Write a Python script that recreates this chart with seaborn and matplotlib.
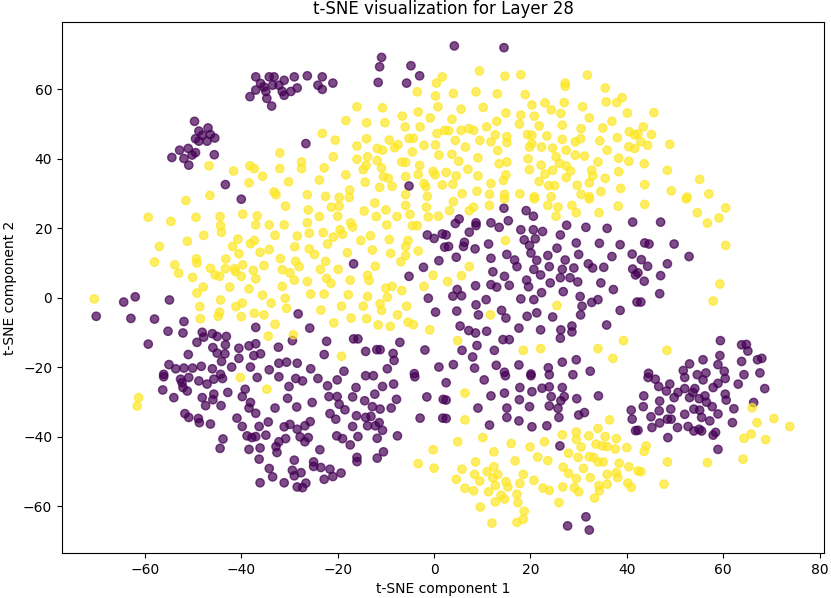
import matplotlib
matplotlib.use('Agg')
import matplotlib.pyplot as plt
import numpy as np
import pandas as pd
import seaborn as sns

# points, label 1 = yellow, label 0 = purple
yellow_pts = [
    (-46.7, 38.0), (-41.6, 36.5), (-38.2, 38.0), (-38.4, 33.1), (-46.5, 29.5), (-51.5, 28.0),
    (-16.0, 55.0), (-10.7, 54.7), (-18.3, 51.0), (-14.0, 50.4), (-10.2, 50.4), (-6.6, 52.3),
    (-3.3, 53.5), (-3.5, 59.3), (0.5, 61.8), (1.7, 63.6), (0.3, 58.1), (0.8, 55.0), (-0.8, 51.8),
    (-6.0, 49.2), (-2.9, 49.2), (0.6, 47.3), (2.2, 48.2), (-23.2, 47.3), (-20.5, 45.4),
    (-14.0, 45.8), (-16.0, 43.7), (-11.8, 43.0), (-10.7, 42.5), (-9.3, 45.4), (-8.2, 43.2),
    (-7.5, 44.1), (-5.2, 45.9), (-4.3, 45.9), (-2.1, 43.9), (0.3, 44.0), (-4.5, 42.0), (1.0, 41.1),
    (-32.0, 41.7), (-27.5, 39.1), (-27.5, 37.2), (-32.0, 37.2), (-20.9, 40.6), (-22.8, 37.4),
    (-16.0, 39.9), (-13.8, 40.6), (-14.1, 38.1), (-14.7, 36.9), (-10.9, 37.4), (-11.8, 39.5),
    (-6.7, 39.1), (-5.9, 39.0), (-3.0, 38.1), (-0.2, 36.4), (0.2, 35.4), (-35.6, 35.0),
    (-30.2, 33.4), (-23.8, 33.9), (-18.3, 35.4), (-14.3, 33.3), (-10.5, 34.9), (-9.5, 34.4),
    (-8.7, 32.1), (-11.3, 31.8), (-5.9, 34.9), (-3.3, 35.5), (-2.1, 32.9), (-1.7, 32.0), (1.7, 32.5),
    (-17.5, 31.0), (-33.2, 30.5), (-32.8, 29.7), (-26.3, 29.7), (-22.5, 29.2), (-19.7, 28.9),
    (-17.6, 28.9), (-5.9, 29.7), (-1.4, 29.2), (-37.3, 37.2),
    (9.4, 65.3), (14.7, 63.8), (18.0, 64.2), (27.2, 61.8), (27.2, 60.9), (31.8, 64.1), (4.0, 58.8),
    (8.7, 59.3), (13.1, 58.7), (18.9, 58.5), (35.5, 60.4), (35.7, 56.4), (37.9, 56.2), (39.0, 57.6),
    (40.1, 53.2), (5.6, 54.3), (10.2, 54.8), (14.9, 53.2), (13.0, 50.8), (3.7, 51.4), (20.3, 55.5),
    (23.0, 56.1), (24.3, 54.1), (26.3, 53.1), (27.0, 56.2), (30.8, 55.0), (32.2, 51.8), (36.9, 50.8),
    (18.0, 52.6), (20.8, 52.3), (17.7, 50.0), (21.8, 49.5), (26.6, 49.7), (30.5, 48.7), (35.0, 48.9),
    (40.5, 47.8), (41.6, 46.9), (3.0, 48.1), (5.6, 48.2), (7.2, 48.7), (8.2, 48.2), (10.9, 49.2),
    (12.7, 46.9), (15.1, 46.4), (15.1, 44.7), (11.8, 44.9), (9.5, 45.3), (4.4, 45.3), (19.4, 47.0),
    (20.3, 46.8), (23.4, 46.6), (26.6, 45.6), (29.3, 44.9), (30.4, 45.8), (34.4, 45.2), (38.0, 46.1),
    (40.4, 43.5), (41.6, 43.0), (6.5, 43.4), (13.2, 42.4), (19.8, 43.4), (20.3, 44.4), (22.3, 43.4),
    (24.6, 43.1), (27.4, 42.5), (29.3, 41.1), (31.2, 40.8), (35.9, 42.5), (3.7, 41.3), (5.1, 39.3),
    (9.1, 40.3), (13.5, 38.6), (15.1, 39.1), (19.5, 40.0), (22.2, 38.2), (25.3, 40.6), (26.0, 38.7),
    (27.4, 38.0), (28.3, 36.5), (34.0, 39.1), (38.3, 40.2), (40.4, 39.3), (7.0, 37.0), (9.1, 35.1),
    (4.6, 35.1), (2.5, 36.1), (14.9, 35.4), (19.8, 36.9), (23.0, 35.6), (24.6, 36.7), (27.4, 34.6),
    (32.7, 36.7), (32.9, 35.1), (38.3, 36.3), (35.5, 34.4), (21.8, 33.5), (23.8, 32.3), (25.0, 32.3),
    (29.7, 32.4), (32.2, 33.1), (38.7, 31.5), (3.9, 32.7), (11.8, 32.9), (14.4, 33.8), (5.8, 30.0),
    (8.9, 30.7), (11.5, 29.8), (14.6, 29.8), (17.8, 29.9), (20.8, 29.1), (24.3, 29.1), (30.5, 29.8),
    (32.2, 29.1), (34.6, 30.6),
    (45.6, 53.3), (43.4, 49.2), (42.3, 47.2), (45.1, 47.0), (42.9, 44.9), (44.3, 43.9), (48.9, 44.2),
    (43.6, 38.6), (48.4, 36.7), (55.1, 34.1), (43.7, 32.6), (49.2, 30.8), (52.5, 29.0), (57.0, 29.9),
    (-59.3, 23.2), (-54.6, 22.0), (-49.4, 23.2), (-44.4, 23.4), (-39.7, 24.1), (-44.3, 20.8),
    (-44.1, 18.9), (-47.8, 18.0), (-51.2, 16.3), (-57.0, 14.8), (-40.7, 16.9), (-41.8, 14.8),
    (-40.5, 12.7), (-38.1, 15.6), (-58.0, 10.3), (-53.8, 9.5), (-53.0, 7.1), (-49.3, 11.2),
    (-49.2, 10.0), (-46.4, 8.5), (-43.2, 11.2), (-43.3, 8.4), (-41.4, 8.4), (-39.7, 9.5),
    (-41.2, 7.6), (-50.1, 5.9), (-45.4, 6.6), (-44.5, 6.2), (-40.0, 6.2), (-37.5, 7.9), (-47.9, 3.1),
    (-42.4, 3.1), (-38.4, 2.6), (-49.2, 1.4), (-70.5, -0.3), (-44.3, -0.6), (-39.8, -1.5),
    (-41.1, -2.5), (-48.6, -2.5), (-44.5, -4.1), (-44.8, -5.3), (-48.5, -6.0), (-40.0, -5.4),
    (-30.8, 26.4), (-36.7, 23.6), (-37.0, 21.0), (-34.2, 21.0), (-31.1, 21.0), (-26.1, 25.3),
    (-23.8, 23.4), (-26.3, 21.6), (-21.3, 26.1), (-19.7, 26.4), (-20.0, 23.5), (-17.3, 21.6),
    (-16.9, 20.4), (-14.5, 25.0), (-12.0, 23.4), (-12.3, 27.3), (-10.0, 25.3), (-7.7, 23.4),
    (-5.9, 26.6), (-5.0, 24.0), (-1.6, 26.1), (-1.2, 23.3), (0.9, 23.5), (-4.5, 20.8), (-3.5, 20.8),
    (-9.8, 21.0), (-33.0, 18.0), (-28.4, 17.8), (-25.9, 18.6), (-23.0, 18.8), (-19.5, 19.6),
    (-20.9, 17.5), (-19.0, 18.3), (-15.2, 16.5), (-13.2, 17.9), (-9.3, 16.8), (-5.4, 16.5),
    (-5.9, 14.8), (-37.3, 16.5), (-34.2, 13.9), (-28.9, 14.7), (-25.9, 14.1), (-24.8, 12.5),
    (-22.1, 15.5), (-36.1, 13.1), (-18.0, 13.0), (-12.8, 13.8), (-9.0, 12.8), (-5.9, 12.2),
    (-3.3, 13.5), (-6.9, 10.4), (-31.9, 11.3), (-28.7, 10.5), (-28.0, 9.0), (-22.5, 10.5),
    (-35.3, 9.3), (-37.0, 5.5), (-31.5, 8.1), (-29.9, 7.2), (-23.6, 8.2), (-19.9, 8.2),
    (-12.2, 9.1), (-13.8, 6.5), (-13.5, 5.0), (-29.0, 5.1), (-22.3, 5.6), (-21.4, 4.2), (-26.3, 4.7),
    (-31.5, 3.3), (-17.4, 5.1), (-10.0, 2.8), (-8.7, 3.3), (-6.7, 2.1), (-0.2, 6.5), (-2.1, 3.3),
    (-35.6, 0.8), (-30.9, -0.1), (-25.6, 1.1), (-22.8, 1.1), (-17.8, 0.9), (-13.8, 0.4), (-9.7, 0.2),
    (-11.2, -1.7), (-10.9, -3.6), (-14.7, -2.4), (-19.2, -2.4), (-23.5, -3.5), (-30.6, -3.0),
    (-33.8, -1.5), (-5.7, -2.4), (-7.6, -4.9), (-37.3, -4.4), (-35.3, -4.9), (-17.2, -5.8),
    (-14.0, -6.0), (-20.8, -7.2), (-33.0, -7.6), (-34.4, -11.0), (-29.2, -10.6), (-11.6, -7.8),
    (-9.1, -8.2), (-5.4, -7.0), (-4.3, -7.7), (-0.9, -9.2), (-19.2, -16.8),
    (4.0, 27.7), (3.2, 25.1), (7.3, 25.1), (8.2, 26.1), (11.5, 26.6), (14.6, 28.5), (20.8, 28.5),
    (23.6, 26.6), (25.7, 26.1), (25.3, 23.5), (28.6, 26.6), (29.5, 24.5), (32.2, 28.5), (34.2, 24.5),
    (38.2, 26.4), (14.8, 16.5), (7.3, 9.0), (5.7, 6.4), (2.8, 4.7), (25.5, -2.2), (11.7, -4.9),
    (4.9, -12.3), (18.5, -15.1), (22.1, -14.6), (34.0, -14.6), (39.3, -12.3), (37.1, -17.4),
    (43.7, 26.9), (52.3, 28.5), (54.6, 24.5), (56.7, 21.5), (59.1, 23.0), (60.5, 25.9), (60.5, 15.1),
    (59.3, 4.0), (57.9, -0.9), (48.3, -15.1),
    (-61.3, -28.7), (-61.6, -31.1), (-40.2, -22.9), (-34.7, -26.3), (-0.2, -43.7), (-3.3, -47.7),
    (0.0, -49.0),
    (6.4, -27.4), (6.4, -35.1), (36.4, -35.1), (4.9, -41.4), (10.1, -40.2), (16.0, -41.9),
    (19.9, -42.9), (22.9, -41.4), (26.6, -39.4), (29.5, -38.6), (29.5, -40.7), (32.1, -39.7),
    (34.0, -37.6), (35.5, -39.9), (37.8, -40.5), (33.6, -42.1), (34.9, -42.6), (35.9, -42.8),
    (37.6, -43.5), (40.0, -43.1), (30.5, -42.9), (27.9, -44.7), (29.9, -45.9), (32.2, -45.7),
    (33.1, -45.9), (34.0, -47.2), (35.1, -47.2), (38.4, -47.6), (40.4, -48.6), (42.3, -49.8),
    (12.4, -44.3), (8.6, -47.2), (5.8, -49.3), (4.6, -52.2), (8.4, -50.8), (9.5, -52.7), (6.4, -54.8),
    (8.2, -55.5), (11.3, -55.8), (11.0, -50.0), (12.4, -48.6), (13.2, -50.8), (12.2, -51.8),
    (12.7, -54.0), (14.9, -52.9), (15.3, -54.4), (16.8, -46.9), (18.5, -50.8), (17.8, -53.4),
    (20.7, -52.5), (21.5, -45.8), (23.6, -46.8), (17.2, -56.5), (13.9, -56.8), (14.6, -57.9),
    (12.7, -58.7), (17.4, -58.9), (22.6, -54.7), (23.9, -55.4), (26.7, -54.4), (26.8, -48.7),
    (27.9, -50.5), (29.5, -52.0), (31.0, -49.1), (32.4, -51.7), (35.9, -50.8), (37.8, -50.3),
    (38.1, -51.7), (34.2, -54.0), (35.9, -53.6), (40.2, -53.3), (40.9, -54.5), (29.1, -54.6),
    (30.0, -55.8), (34.3, -55.5), (33.3, -57.6), (25.9, -58.9), (9.6, -60.2), (18.7, -61.4),
    (18.5, -63.7), (17.2, -64.6), (12.0, -64.8),
    (66.0, -31.6), (67.0, -35.9), (70.5, -34.7), (73.8, -37.0), (65.8, -39.2), (64.3, -40.4),
    (68.8, -40.8), (44.0, -42.6), (43.6, -44.2), (48.4, -47.2), (56.7, -47.4), (64.1, -46.4),
    (42.9, -50.0), (47.7, -53.6),
]

purple_pts = [
    (-49.7, 50.8), (-48.8, 48.0), (-46.9, 48.9), (-48.1, 46.8), (-46.4, 47.0), (-49.5, 45.8),
    (-47.1, 45.1), (-45.5, 46.0), (-48.8, 45.1), (-52.8, 42.5), (-51.0, 43.0), (-49.5, 41.8),
    (-54.4, 40.4), (-51.9, 40.1), (-50.2, 41.1), (-50.9, 38.2), (-45.6, 41.2), (-43.3, 32.6),
    (-40.0, 28.4), (-38.2, 57.9),
    (-37.0, 63.6), (-36.0, 61.7), (-34.2, 63.6), (-33.2, 63.6), (-35.3, 60.7), (-33.5, 61.2),
    (-32.2, 61.2), (-31.1, 62.6), (-37.0, 59.8), (-34.9, 59.4), (-31.5, 59.4), (-31.1, 58.3),
    (-29.7, 59.4), (-29.0, 63.6), (-28.4, 60.4), (-34.7, 57.4), (-33.7, 55.2), (-26.3, 63.9),
    (-23.2, 63.6), (-24.1, 61.2), (-23.2, 60.0), (-21.0, 61.8), (-10.9, 69.2), (-11.3, 66.5),
    (-11.6, 62.0), (-4.8, 66.8), (-3.0, 63.9), (-5.7, 61.8), (-26.6, 44.4), (-5.2, 32.2),
    (4.2, 72.5), (14.5, 72.0),
    (-64.4, -1.2), (-62.0, 0.3), (-54.9, -0.6), (-70.1, -5.3), (-62.9, -5.9), (-58.0, -6.1),
    (-51.9, -6.8), (-55.2, -9.6), (-52.1, -10.1), (-48.1, -9.9), (-47.8, -11.3), (-46.0, -10.3),
    (-45.0, -11.1), (-43.1, -11.1), (-49.2, -12.8), (-45.9, -14.3), (-43.3, -13.5), (-40.5, -14.5),
    (-38.4, -13.8), (-59.3, -13.3), (-45.0, -15.9), (-43.4, -16.1), (-40.5, -17.4), (-37.4, -16.6),
    (-51.0, -16.3), (-44.1, -18.3), (-42.0, -19.9), (-55.0, -19.2), (-53.6, -20.4), (-51.9, -20.2),
    (-50.1, -20.2), (-48.3, -19.7), (-46.0, -20.4), (-56.1, -22.0), (-44.3, -22.0), (-38.1, -19.9),
    (-16.7, 9.8), (-1.4, 18.1), (0.0, 17.1), (1.7, 18.4), (2.2, 14.6), (1.0, 10.7), (-2.2, 8.8),
    (-5.2, 6.2), (-1.2, -0.1), (0.3, -4.1), (-28.2, -4.6), (-25.8, -8.7), (-37.0, -8.5),
    (-29.4, -12.3), (-32.3, -14.2), (-37.0, -13.2), (-36.0, -16.1), (-22.3, -12.5), (-22.8, -16.3),
    (-16.7, -11.8), (-15.8, -11.8), (-14.2, -15.4), (-11.9, -14.9), (-11.2, -14.9), (-7.1, -12.8),
    (-8.5, -16.0), (-8.3, -18.0), (-1.9, -15.0), (-32.2, -18.8), (-30.6, -18.5), (-28.4, -18.8),
    (-34.2, -20.7), (-25.6, -20.4), (-18.7, -21.1), (-9.7, -20.4), (-4.1, -21.8), (1.0, -19.9),
    (5.2, 22.7), (4.4, 21.4), (8.7, 21.6), (8.7, 20.8), (7.3, 18.9), (2.5, 18.1), (11.8, 21.6),
    (13.5, 20.3), (15.4, 22.2), (14.5, 25.8), (19.1, 25.1), (20.6, 23.5), (18.0, 19.6), (20.6, 19.6),
    (22.5, 19.1), (26.2, 18.1), (27.5, 20.9), (31.5, 20.3), (35.9, 20.0), (41.2, 21.8), (3.0, 14.8),
    (6.1, 14.8), (6.3, 16.0), (8.5, 14.1), (11.3, 15.5), (18.7, 16.7), (21.0, 17.0), (19.8, 15.1),
    (20.1, 12.9), (25.5, 14.3), (29.5, 15.8), (34.3, 15.7), (38.6, 15.3), (4.6, 11.7), (11.8, 11.4),
    (15.1, 12.5), (16.7, 10.9), (17.2, 9.0), (21.3, 10.8), (23.6, 12.2), (27.2, 10.9), (30.0, 12.5),
    (32.0, 9.8), (36.9, 11.9), (41.1, 12.6), (12.2, 7.5), (14.6, 6.2), (20.7, 8.2), (22.1, 6.6),
    (23.9, 9.0), (26.6, 8.2), (29.0, 8.6), (26.2, 5.8), (28.2, 5.8), (29.8, 4.6), (32.9, 8.6),
    (35.2, 8.8), (41.2, 8.3), (41.8, 6.6), (8.6, 3.5), (11.8, 3.8), (13.0, 3.1), (15.6, 3.6),
    (19.2, 5.1), (19.6, 3.2), (24.1, 4.3), (26.8, 1.8), (34.6, 4.3), (37.2, 2.4), (4.8, 2.4),
    (3.9, 0.5), (5.7, 0.6), (10.8, -0.5), (18.0, -0.3), (20.7, -0.5), (22.3, 1.5), (30.3, 0.4),
    (30.7, -2.4), (32.7, -1.3), (34.0, -0.5), (42.1, -1.2), (8.7, -2.0), (4.7, -3.8), (9.2, -4.9),
    (14.0, -3.6), (14.9, -5.8), (19.3, -5.3), (21.3, -4.3), (24.6, -5.5), (30.4, -4.9), (38.6, -3.6),
    (5.4, -8.1), (7.2, -9.4), (8.6, -10.1), (10.9, -9.6), (17.6, -8.7), (22.1, -9.2), (26.3, -9.2),
    (28.6, -8.1), (28.6, -9.8), (26.2, -11.6), (35.8, -7.8), (14.3, -12.0), (15.6, -12.0),
    (8.9, -13.7), (12.5, -15.1), (5.8, -15.1), (8.0, -17.0), (4.0, -19.2), (8.4, -20.2),
    (12.9, -19.4), (17.6, -19.3), (23.7, -20.1), (26.6, -18.5), (29.5, -17.8), (32.4, -21.1),
    (14.6, -21.4), (20.1, -21.9), (23.9, -22.1), (28.8, -22.1),
    (47.0, 21.8), (43.7, 15.8), (44.6, 15.5), (49.8, 15.5), (52.9, 11.9), (43.0, 11.0), (44.3, 9.1),
    (48.4, 9.8), (42.3, 7.2), (43.6, 4.8), (47.0, 6.4), (46.8, 1.2), (42.9, -1.2), (59.4, -12.3),
    (63.8, -13.5), (64.8, -13.4), (65.1, -15.3), (59.3, -16.6), (55.8, -17.8), (53.0, -19.0),
    (51.7, -20.9), (58.9, -19.2), (63.8, -18.3), (67.1, -17.8), (68.0, -17.4), (44.5, -21.7),
    (54.6, -22.1), (56.4, -21.6), (60.2, -21.1), (64.3, -22.1), (67.6, -21.6),
    (-56.1, -22.7), (-52.6, -23.4), (-50.9, -22.9), (-48.8, -23.9), (-47.1, -24.8), (-45.7, -23.4),
    (-43.9, -23.2), (-52.3, -24.4), (-56.3, -26.5), (-54.0, -28.7), (-52.1, -25.8), (-51.2, -26.8),
    (-48.1, -28.7), (-45.7, -27.7), (-45.9, -29.3), (-47.4, -31.0), (-44.2, -31.0), (-42.8, -27.2),
    (-39.2, -26.3), (-39.8, -28.4), (-38.1, -30.1), (-38.4, -31.7), (-51.7, -33.3), (-50.9, -34.4),
    (-48.9, -34.7), (-48.7, -35.9), (-46.4, -36.3), (-40.9, -34.6), (-39.8, -37.0), (-43.8, -40.6),
    (-44.4, -43.3), (-38.8, -39.7), (-37.8, -40.2), (-38.4, -43.6),
    (-36.7, -22.9), (-32.2, -22.7), (-28.7, -23.2), (-27.3, -23.9), (-24.1, -23.2), (-20.1, -23.6),
    (-14.2, -22.4), (-12.6, -22.4), (-8.4, -24.8), (-4.0, -22.7), (-30.1, -25.5), (-22.1, -25.3),
    (-16.2, -25.8), (-10.7, -25.5), (-30.4, -28.9), (-25.3, -30.1), (-21.8, -28.4), (-20.1, -28.4),
    (-19.7, -30.6), (-16.9, -28.5), (-14.4, -29.6), (-12.3, -27.7), (-12.8, -31.3), (-11.2, -32.0),
    (-8.9, -31.7), (-7.8, -29.2), (-1.5, -28.5), (1.9, -29.2), (-33.0, -31.7), (-28.5, -31.4),
    (-37.0, -33.2), (-34.4, -35.7), (-36.3, -37.0), (-31.1, -37.1), (-29.9, -36.4), (-28.4, -37.8),
    (-26.8, -36.8), (-25.7, -35.6), (-21.6, -33.3), (-20.4, -34.9), (-18.5, -32.2), (-16.1, -33.9),
    (-14.2, -34.4), (-13.1, -34.1), (-11.4, -35.9), (-16.9, -37.0), (-13.8, -36.8), (-12.2, -36.8),
    (-10.7, -38.1), (-37.0, -39.9), (-34.9, -39.5), (-30.8, -40.5), (-27.8, -40.0), (-26.1, -40.2),
    (-20.2, -39.7), (-19.0, -40.5), (-15.8, -39.9), (-11.8, -40.4), (-7.6, -39.7), (-2.9, -34.6),
    (1.8, -34.6), (-32.2, -41.4), (-32.8, -42.8), (-36.1, -43.2), (-26.8, -41.4), (-23.7, -43.7),
    (-17.4, -42.3), (-32.6, -44.5), (-36.3, -46.4), (-29.0, -46.7), (-16.0, -45.9), (-16.0, -47.1),
    (-11.8, -46.1), (-10.5, -44.3), (-25.0, -47.2), (-25.0, -48.5), (-23.5, -48.8), (-21.6, -49.3),
    (-19.3, -50.4), (-34.2, -49.1), (-29.4, -49.6), (-27.6, -50.3), (-33.5, -51.5), (-29.0, -51.2),
    (-21.0, -51.4), (-22.8, -52.2), (-36.1, -53.2), (-31.1, -53.2), (-28.4, -54.4), (-26.6, -53.3),
    (-27.3, -54.6),
    (10.4, -23.6), (14.8, -22.4), (20.1, -22.4), (2.5, -24.4), (2.5, -29.4), (2.5, -34.7),
    (11.8, -28.2), (14.6, -27.4), (17.8, -25.8), (20.3, -27.0), (22.4, -26.0), (23.9, -25.6),
    (26.6, -25.8), (24.3, -28.4), (27.0, -28.4), (26.3, -29.6), (17.7, -29.3), (19.8, -31.3),
    (23.9, -31.1), (25.7, -31.8), (29.6, -29.0), (34.1, -28.2), (9.1, -31.7), (15.1, -31.7),
    (15.1, -34.4), (17.6, -35.4), (25.9, -34.4), (30.0, -33.7), (31.2, -33.0), (11.5, -36.6),
    (20.3, -37.1), (23.4, -36.8), (26.1, -42.6), (40.9, -32.3), (41.1, -34.9), (41.8, -38.2),
    (31.5, -63.0), (27.7, -65.6), (32.2, -66.8),
    (44.4, -22.9), (45.9, -23.4), (48.9, -24.8), (46.6, -25.5), (48.2, -26.8), (43.5, -28.2),
    (43.4, -31.3), (46.8, -29.7), (49.8, -28.7), (50.6, -27.2), (52.0, -26.1), (53.7, -27.2),
    (54.1, -26.1), (53.0, -28.7), (55.0, -29.0), (56.2, -28.2), (56.5, -30.0), (57.9, -25.8),
    (58.9, -24.6), (60.4, -23.2), (55.8, -23.6), (52.0, -22.9), (63.1, -24.8), (68.6, -26.1),
    (60.4, -27.7), (60.6, -29.4), (57.7, -31.3), (58.9, -33.4), (62.2, -31.9), (66.3, -30.1),
    (61.9, -35.9), (45.0, -34.2), (46.7, -32.5), (49.1, -32.0), (49.2, -34.9), (46.8, -36.0),
    (45.2, -37.3), (48.4, -34.9), (50.5, -37.3), (52.0, -33.5), (53.9, -32.0), (55.1, -32.3),
    (55.5, -34.4), (57.2, -35.4), (52.7, -37.0), (53.9, -38.3), (55.0, -37.8), (55.5, -38.3),
    (57.9, -39.5), (58.4, -38.7), (48.5, -40.2), (58.9, -43.6), (42.3, -38.1),
]

yellow_x = [p[0] for p in yellow_pts]
yellow_y = [p[1] for p in yellow_pts]
purple_x = [p[0] for p in purple_pts]
purple_y = [p[1] for p in purple_pts]

df = pd.DataFrame({
    'x': purple_x + yellow_x,
    'y': purple_y + yellow_y,
    'label': [0] * len(purple_x) + [1] * len(yellow_x),
})

fig = plt.figure(figsize=(8.31, 5.98), dpi=100)
ax = fig.add_axes([0.0746, 0.0753, 0.917, 0.888])

cmap = plt.get_cmap('viridis')
palette = {0: cmap(0.0), 1: cmap(1.0)}

# matplotlib-like markers: face-coloured edge of width 1
sns.scatterplot(data=df, x='x', y='y', hue='label', palette=palette,
                alpha=0.7, s=36, edgecolor='face', linewidth=1.0,
                legend=False, ax=ax)

ax.set_xlim(-77.2, 80.9)
ax.set_ylim(-73.4, 79.4)
ax.set_xticks([-60, -40, -20, 0, 20, 40, 60, 80])
ax.set_yticks([-60, -40, -20, 0, 20, 40, 60])
ax.set_title('t-SNE visualization for Layer 28', fontsize=12)
ax.set_xlabel('t-SNE component 1')
ax.set_ylabel('t-SNE component 2')

fig.savefig('out.png', dpi=100)
